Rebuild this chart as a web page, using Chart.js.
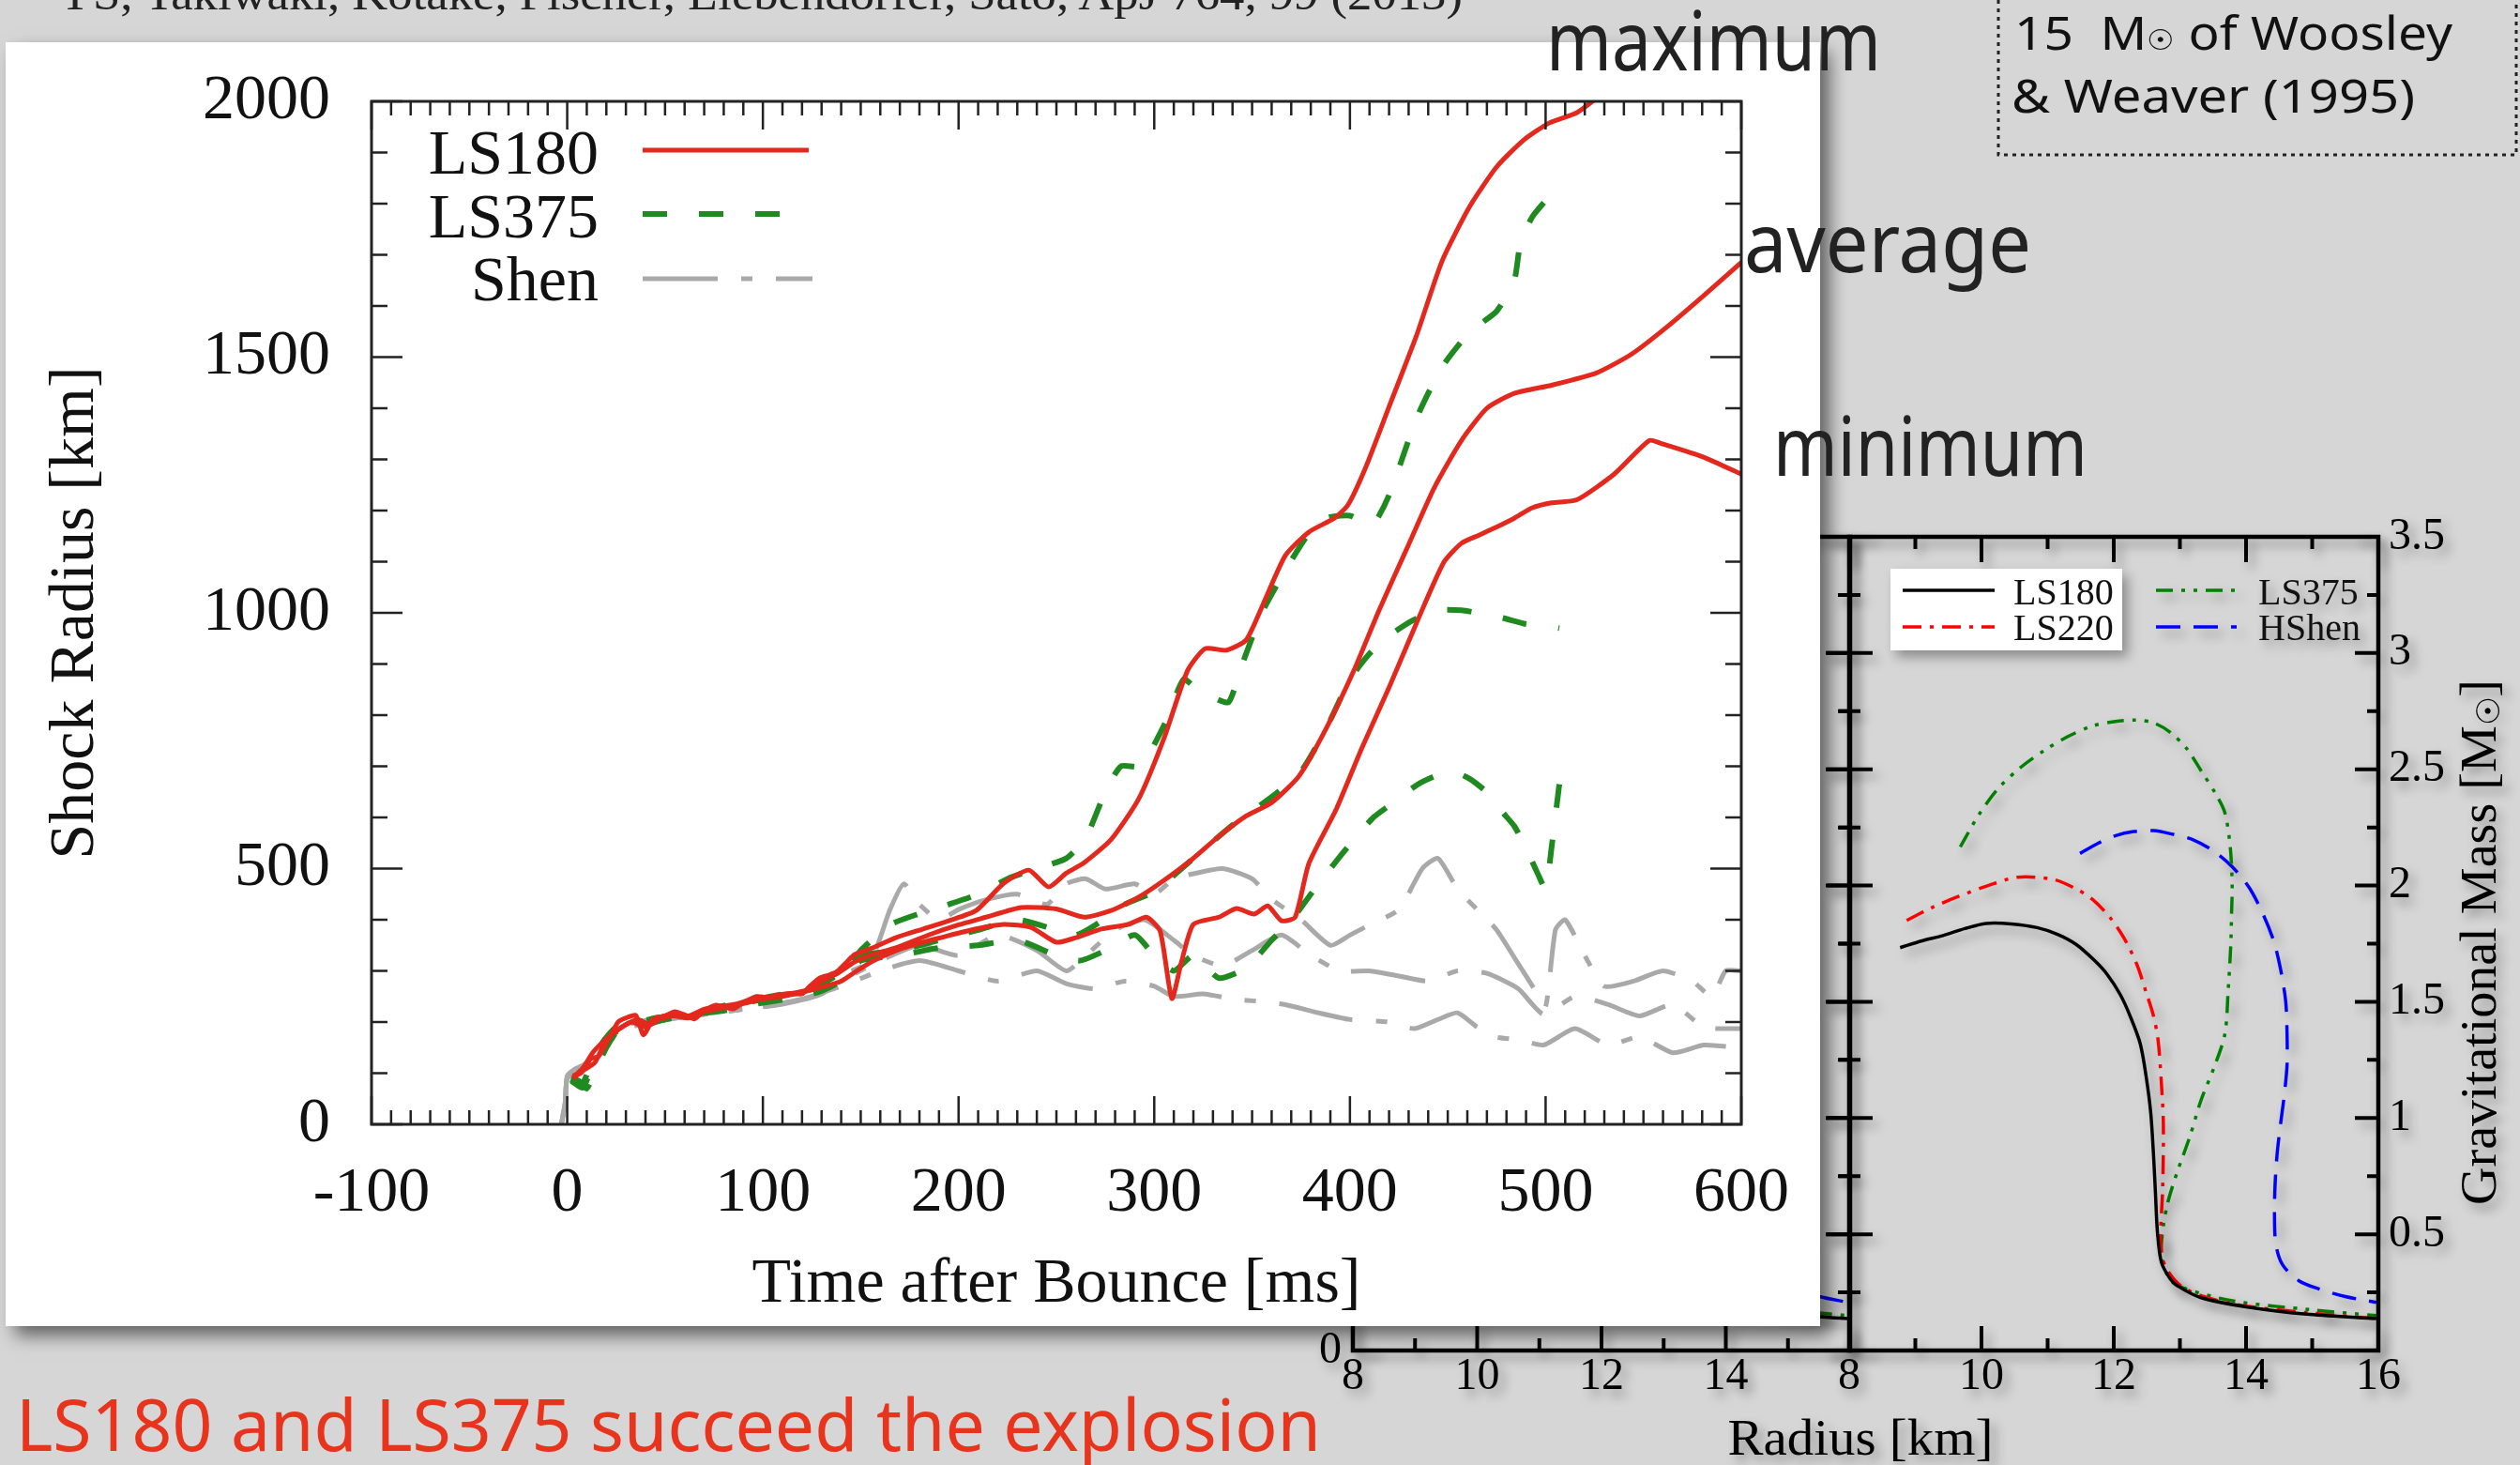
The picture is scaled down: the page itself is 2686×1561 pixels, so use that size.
<!DOCTYPE html>
<html>
<head>
<meta charset="utf-8">
<script src="https://cdn.jsdelivr.net/npm/chart.js@4.4.1/dist/chart.umd.min.js"></script>
<style>
  html, body { margin: 0; padding: 0; }
  body { width: 2686px; height: 1561px; position: relative; overflow: hidden; background: #d6d6d6; }
  .abs { position: absolute; }
  canvas { display: block; }
  #panel { left: 6px; top: 45px; width: 1934px; height: 1368px; background: #fff; box-shadow: 10px 10px 18px rgba(0,0,0,0.55); }
</style>
</head>
<body>
<canvas id="mrLeft" class="abs" style="left:1300px;top:520px" width="700" height="1041"></canvas>
<canvas id="mrRight" class="abs" style="left:1800px;top:520px" width="886" height="1041"></canvas>
<div id="panel" class="abs"><canvas id="shock" width="1934" height="1368"></canvas></div>
<svg class="abs" style="left:0;top:0" width="2686" height="1561">
  <text x="61" y="10" font-family="Liberation Serif" font-size="48" fill="#222" textLength="1498" lengthAdjust="spacingAndGlyphs">YS, Takiwaki, Kotake, Fischer, Liebendörfer, Sato, ApJ 764, 99 (2013)</text>
  <text x="1648" y="75" font-family="Noto Sans" font-size="88" fill="#222" textLength="357" lengthAdjust="spacingAndGlyphs">maximum</text>
  <text x="1859" y="290" font-family="Noto Sans" font-size="88" fill="#222" textLength="306" lengthAdjust="spacingAndGlyphs">average</text>
  <text x="1890" y="507" font-family="Noto Sans" font-size="88" fill="#222" textLength="335" lengthAdjust="spacingAndGlyphs">minimum</text>
  <rect x="2130" y="-10" width="552" height="175" fill="none" stroke="#222" stroke-width="3" stroke-dasharray="4 5"/>
  <text x="2147" y="53" font-family="Noto Sans" font-size="50" fill="#111" style="white-space:pre" textLength="467" lengthAdjust="spacingAndGlyphs">15  M<tspan font-size="30">☉</tspan> of Woosley</text>
  <text x="2144" y="120" font-family="Noto Sans" font-size="50" fill="#111" textLength="430" lengthAdjust="spacingAndGlyphs">&amp; Weaver (1995)</text>
  <text x="17" y="1546" font-family="Noto Sans" font-size="76" fill="#e8341c" textLength="1391" lengthAdjust="spacingAndGlyphs">LS180 and LS375 succeed the explosion</text>
</svg>
<script>
// shock radius [km] vs time after bounce [ms]
const timeTicks = [-100, 0, 100, 200, 300, 400, 500, 600];
const radiusTicks = [0, 500, 1000, 1500, 2000];

const ls180MaxT = [3, 7, 12, 16, 21, 26, 30, 35, 39, 44, 50, 55, 60, 65, 70, 76, 81, 85, 91, 97, 102, 108, 114, 120, 124, 129, 134, 138, 143, 147, 156, 168, 182, 195, 209, 223, 236, 246, 255, 264, 278, 292, 305, 317, 326, 337, 347, 356, 367, 379, 392, 399, 408, 420, 434, 447, 461, 475, 489, 502, 516, 530];
const ls180MaxR = [95, 100, 128, 133, 165, 200, 208, 213, 175, 206, 212, 220, 214, 206, 222, 233, 228, 226, 240, 250, 248, 253, 256, 255, 270, 286, 292, 299, 318, 332, 345, 365, 382, 398, 418, 471, 497, 464, 491, 511, 557, 636, 755, 887, 930, 927, 947, 1020, 1112, 1158, 1185, 1211, 1284, 1403, 1542, 1687, 1793, 1872, 1925, 1958, 1978, 2018];
const ls180AvgT = [3, 8, 13, 18, 24, 30, 36, 42, 48, 55, 62, 70, 78, 86, 95, 104, 113, 122, 130, 138, 147, 156, 168, 186, 200, 214, 232, 250, 264, 278, 292, 305, 319, 333, 347, 360, 374, 388, 402, 415, 429, 443, 457, 470, 484, 503, 526, 544, 562, 581, 600];
const ls180AvgR = [92, 110, 140, 160, 180, 195, 205, 196, 210, 215, 212, 225, 230, 235, 245, 250, 255, 262, 280, 295, 318, 332, 345, 372, 390, 405, 424, 421, 405, 418, 444, 477, 517, 563, 603, 629, 681, 775, 887, 1006, 1125, 1244, 1337, 1400, 1429, 1445, 1469, 1506, 1559, 1621, 1685];
const ls180MinT = [3, 8, 14, 20, 26, 33, 40, 47, 54, 62, 70, 80, 90, 100, 110, 120, 130, 140, 148, 156, 172, 191, 209, 223, 237, 250, 260, 273, 287, 296, 303, 309, 314, 320, 333, 342, 351, 358, 365, 372, 379, 393, 406, 420, 434, 448, 457, 466, 475, 484, 493, 503, 516, 535, 553, 560, 581, 600];
const ls180MinR = [90, 105, 120, 165, 185, 200, 190, 205, 212, 208, 220, 228, 236, 245, 250, 258, 268, 280, 300, 319, 345, 365, 382, 391, 385, 356, 365, 382, 391, 405, 378, 246, 319, 391, 405, 422, 411, 427, 398, 405, 510, 616, 735, 854, 980, 1099, 1136, 1152, 1168, 1185, 1205, 1215, 1221, 1271, 1337, 1330, 1304, 1271];

const ls375MaxT = [2, 6, 10, 15, 20, 26, 32, 40, 50, 60, 72, 85, 100, 115, 130, 142, 150, 165, 180, 195, 210, 225, 240, 255, 265, 275, 283, 293, 305, 315, 322, 330, 338, 345, 355, 365, 378, 388, 400, 411, 420, 434, 447, 461, 475, 484, 487, 493, 500];
const ls375MaxR = [90, 85, 70, 110, 150, 185, 200, 195, 205, 210, 220, 230, 245, 255, 270, 300, 340, 390, 412, 430, 450, 480, 500, 520, 560, 650, 700, 700, 780, 870, 850, 835, 825, 900, 1000, 1070, 1150, 1185, 1190, 1170, 1230, 1380, 1480, 1548, 1590, 1650, 1720, 1773, 1806];
const ls375AvgT = [2, 7, 12, 18, 25, 35, 45, 58, 72, 88, 104, 120, 135, 150, 170, 190, 210, 230, 250, 260, 270, 285, 300, 320, 340, 360, 375, 388, 400, 410, 420, 432, 445, 457, 468, 478, 490, 500, 507];
const ls375AvgR = [88, 75, 115, 160, 190, 198, 208, 212, 225, 238, 250, 262, 285, 330, 340, 360, 380, 400, 380, 370, 390, 430, 455, 520, 585, 640, 690, 775, 870, 920, 955, 985, 1005, 1005, 998, 990, 978, 975, 970];
const ls375MinT = [2, 8, 14, 20, 28, 38, 50, 64, 80, 96, 112, 128, 140, 150, 170, 190, 210, 230, 250, 262, 275, 290, 300, 310, 320, 333, 347, 351, 360, 370, 380, 390, 402, 412, 420, 434, 443, 452, 461, 470, 478, 484, 490, 496, 500, 503, 507];
const ls375MinR = [85, 72, 125, 165, 188, 200, 205, 215, 222, 235, 245, 258, 280, 320, 330, 345, 350, 360, 330, 320, 340, 370, 330, 300, 330, 286, 305, 320, 360, 398, 450, 500, 557, 600, 623, 663, 680, 690, 676, 649, 610, 583, 540, 490, 460, 540, 665];

const shenMaxT = [-3, -1, 0, 4, 10, 20, 30, 50, 70, 90, 110, 130, 140, 155, 165, 172, 180, 190, 200, 215, 230, 245, 255, 265, 275, 290, 300, 310, 320, 335, 350, 360, 375, 390, 400, 410, 425, 437, 445, 455, 465, 475, 485, 495, 500, 505, 510, 520, 530, 545, 560, 575, 585, 592, 600];
const shenMaxR = [0, 40, 95, 108, 120, 170, 195, 205, 215, 225, 235, 255, 290, 320, 420, 470, 430, 400, 420, 440, 450, 430, 470, 480, 460, 470, 450, 480, 490, 500, 480, 440, 400, 350, 370, 390, 420, 500, 520, 460, 420, 380, 320, 260, 230, 380, 400, 330, 270, 280, 300, 280, 250, 300, 300];
const shenAvgT = [-3, -1, 0, 5, 12, 22, 35, 55, 75, 95, 115, 130, 140, 160, 180, 200, 220, 240, 255, 265, 280, 295, 310, 320, 335, 350, 365, 380, 395, 410, 425, 440, 455, 470, 486, 499, 515, 532, 548, 565, 581, 600];
const shenAvgR = [0, 45, 92, 105, 125, 175, 200, 208, 218, 228, 240, 255, 280, 320, 350, 330, 370, 340, 300, 330, 380, 400, 360, 330, 310, 340, 370, 330, 300, 300, 290, 280, 300, 295, 265, 215, 250, 234, 212, 234, 190, 187];
const shenMinT = [-3, -1, 0, 6, 14, 25, 40, 60, 80, 100, 120, 140, 160, 180, 200, 220, 240, 255, 270, 285, 300, 310, 325, 340, 355, 367, 384, 400, 420, 433, 445, 455, 465, 474, 487, 499, 515, 532, 548, 565, 581, 600];
const shenMinR = [0, 42, 90, 102, 128, 178, 198, 210, 220, 230, 245, 270, 300, 320, 300, 280, 300, 275, 265, 280, 270, 250, 255, 245, 240, 234, 218, 205, 200, 187, 205, 218, 190, 171, 165, 155, 187, 155, 171, 140, 155, 149];

// gravitational mass [Msun] vs radius [km]
const mrXTicks = [8, 10, 12, 14, 16];
const mrXTicksLeft = [8, 10, 12, 14];
const mrYTicks = [0, 0.5, 1, 1.5, 2, 2.5, 3, 3.5];
const mrYTicksRight = [0.5, 1, 1.5, 2, 2.5, 3, 3.5];

const mrLs180R = [8.77, 9.1, 9.42, 9.75, 10.07, 10.45, 10.84, 11.15, 11.43, 11.7, 11.9, 12.1, 12.25, 12.4, 12.49, 12.56, 12.6, 12.63, 12.66, 12.72, 12.85, 12.96, 13.31, 14.0, 14.96, 15.97];
const mrLs180M = [1.733, 1.762, 1.785, 1.815, 1.837, 1.835, 1.819, 1.79, 1.747, 1.68, 1.618, 1.53, 1.437, 1.32, 1.178, 1.02, 0.846, 0.68, 0.511, 0.38, 0.31, 0.279, 0.228, 0.188, 0.155, 0.137];
const mrLs220R = [8.87, 9.25, 9.66, 10.1, 10.55, 11.09, 11.4, 11.68, 11.95, 12.16, 12.35, 12.49, 12.6, 12.67, 12.72, 12.75, 12.74, 12.71, 12.79, 13.08, 13.79, 14.96, 15.97];
const mrLs220M = [1.85, 1.905, 1.954, 2.0, 2.036, 2.026, 1.99, 1.94, 1.86, 1.772, 1.66, 1.54, 1.44, 1.335, 1.15, 0.974, 0.7, 0.459, 0.356, 0.265, 0.201, 0.162, 0.137];
const mrLs375R = [9.68, 9.95, 10.25, 10.6, 10.96, 11.3, 11.67, 12.0, 12.32, 12.6, 12.85, 13.1, 13.32, 13.55, 13.68, 13.76, 13.79, 13.78, 13.77, 13.73, 13.68, 13.52, 13.32, 13.15, 12.96, 12.82, 12.75, 12.72, 12.8, 12.96, 13.79, 14.96, 15.97];
const mrLs375M = [2.166, 2.3, 2.417, 2.51, 2.583, 2.64, 2.686, 2.705, 2.712, 2.7, 2.66, 2.59, 2.494, 2.39, 2.313, 2.17, 2.004, 1.87, 1.747, 1.55, 1.361, 1.22, 1.077, 0.92, 0.768, 0.64, 0.536, 0.42, 0.33, 0.279, 0.214, 0.176, 0.15];
const mrShenR = [11.49, 11.75, 12.03, 12.3, 12.6, 12.9, 13.2, 13.5, 13.79, 14.05, 14.26, 14.42, 14.52, 14.6, 14.62, 14.62, 14.58, 14.52, 14.47, 14.44, 14.43, 14.45, 14.55, 14.8, 15.09, 15.5, 15.97];
const mrShenM = [2.138, 2.18, 2.215, 2.232, 2.236, 2.22, 2.197, 2.15, 2.081, 1.99, 1.875, 1.76, 1.643, 1.5, 1.361, 1.23, 1.103, 0.97, 0.846, 0.72, 0.588, 0.459, 0.37, 0.3, 0.266, 0.232, 0.207];

const serif = '"Liberation Serif", "DejaVu Serif", serif';

function pts(xs, ys) {
    return xs.map((x, i) => ({ x: x, y: ys[i] }));
}

function curve(label, xs, ys, color, width, dash) {
    return { label: label, data: pts(xs, ys), borderColor: color, borderWidth: width, borderDash: dash, fill: false, pointRadius: 0 };
}

function eachStep(min, max, minor, major, fn) {
    const n = Math.round((max - min) / minor);
    for (let i = 0; i <= n; i++) {
        const v = min + i * minor;
        const q = v / major;
        fn(v, Math.abs(q - Math.round(q)) < 1e-6);
    }
}

// fixed axis sizes, and no extra room for the end labels
function fixWidth(w) {
    return s => { s.width = w; s.paddingTop = 0; s.paddingBottom = 0; };
}
function fixHeight(h) {
    return s => { s.height = h; s.paddingLeft = 0; s.paddingRight = 0; };
}

// box round the plot with inward ticks (minor + major) on all four sides
const framePlugin = {
    id: 'frame',
    afterDatasetsDraw(chart, args, o) {
        const { ctx, chartArea: a } = chart;
        const xs = chart.scales.x, ys = chart.scales.y;
        ctx.save();
        ctx.strokeStyle = o.color;
        ctx.lineWidth = o.tickWidth;
        ctx.beginPath();
        eachStep(xs.min, xs.max, o.xMinor, o.xMajor, (v, major) => {
            const p = xs.getPixelForValue(v);
            const k = major ? 0 : 1;
            ctx.moveTo(p, a.top); ctx.lineTo(p, a.top + o.top[k]);
            ctx.moveTo(p, a.bottom); ctx.lineTo(p, a.bottom - o.bottom[k]);
        });
        eachStep(ys.min, ys.max, o.yMinor, o.yMajor, (v, major) => {
            const p = ys.getPixelForValue(v);
            const k = major ? 0 : 1;
            const out = o.leftCross ? o.left[k] : 0;
            ctx.moveTo(a.left - out, p); ctx.lineTo(a.left + o.left[k], p);
            ctx.moveTo(a.right, p); ctx.lineTo(a.right - o.right[k], p);
        });
        ctx.stroke();
        ctx.lineWidth = o.width;
        ctx.strokeRect(a.left, a.top, a.width, a.height);
        ctx.restore();
    }
};

// legend rows: line sample drawn with the dataset's own style
const keyPlugin = {
    id: 'key',
    afterDatasetsDraw(chart, args, o) {
        if (!o.entries) return;
        const ctx = chart.ctx;
        ctx.save();
        if (o.box) {
            ctx.fillStyle = '#fff';
            ctx.fillRect(o.box[0], o.box[1], o.box[2], o.box[3]);
        }
        o.entries.forEach(e => {
            const ds = chart.data.datasets.find(d => d.label === e.label);
            ctx.save();
            if (e.plain) ctx.shadowColor = 'rgba(0,0,0,0)';
            ctx.strokeStyle = ds.borderColor;
            ctx.lineWidth = ds.borderWidth;
            ctx.setLineDash(ds.borderDash || []);
            ctx.beginPath();
            ctx.moveTo(e.x0, e.y);
            ctx.lineTo(e.x1, e.y);
            ctx.stroke();
            ctx.setLineDash([]);
            ctx.fillStyle = '#111';
            ctx.font = o.size + 'px ' + serif;
            ctx.textAlign = e.align;
            ctx.textBaseline = 'alphabetic';
            ctx.fillText(e.label, e.tx, e.ty);
            ctx.restore();
        });
        ctx.restore();
    }
};

const shadowPlugin = {
    id: 'softShadow',
    beforeDraw(chart, args, o) {
        const c = chart.ctx;
        c.save();
        c.shadowColor = o.color;
        c.shadowBlur = o.blur;
        c.shadowOffsetX = o.dx;
        c.shadowOffsetY = o.dy;
    },
    afterDraw(chart) {
        chart.ctx.restore();
    }
};

function drawFitted(ctx, parts, cx, by, width, rot) {
    let w = 0;
    parts.forEach(p => { ctx.font = p[1] + 'px ' + serif; w += ctx.measureText(p[0]).width; });
    ctx.save();
    ctx.translate(cx, by);
    ctx.rotate(rot);
    ctx.scale(width / w, 1);
    let x = -w / 2;
    parts.forEach(p => {
        ctx.font = p[1] + 'px ' + serif;
        ctx.fillText(p[0], x, p[2] || 0);
        x += ctx.measureText(p[0]).width;
    });
    ctx.restore();
}

const mrTitlePlugin = {
    id: 'mrTitles',
    afterDatasetsDraw(chart, args, o) {
        if (!o.xText) return;
        const ctx = chart.ctx;
        ctx.save();
        ctx.fillStyle = '#000';
        ctx.textAlign = 'left';
        ctx.textBaseline = 'alphabetic';
        drawFitted(ctx, [[o.xText, o.size]], o.xPos[0], o.xPos[1], o.xWidth, 0);
        drawFitted(ctx, o.yParts, o.yPos[0], o.yPos[1], o.yWidth, -Math.PI / 2);
        ctx.restore();
    }
};

const red = '#e3281d', green = '#1f8a1f', gray = '#a9a9a9';
const greenDash = [26, 34], grayDash = [80, 25, 12, 25];

const shockSets = [
    curve('LS180', ls180MaxT, ls180MaxR, red, 5, []),
    curve('LS180', ls180AvgT, ls180AvgR, red, 5, []),
    curve('LS180', ls180MinT, ls180MinR, red, 5, []),
    curve('LS375', ls375MaxT, ls375MaxR, green, 6, greenDash),
    curve('LS375', ls375AvgT, ls375AvgR, green, 6, greenDash),
    curve('LS375', ls375MinT, ls375MinR, green, 6, greenDash),
    curve('Shen', shenMaxT, shenMaxR, gray, 5, grayDash),
    curve('Shen', shenAvgT, shenAvgR, gray, 5, grayDash),
    curve('Shen', shenMinT, shenMinR, gray, 5, grayDash)
];

const tickFont = { family: serif, size: 68 };

new Chart(document.getElementById('shock'), {
    type: 'line',
    data: { datasets: shockSets },
    options: {
        responsive: false,
        animation: false,
        devicePixelRatio: 1,
        layout: { padding: { top: 63, right: 84, left: 0, bottom: 0 } },
        elements: { point: { radius: 0 }, line: { tension: 0.2 } },
        plugins: {
            legend: { display: false },
            tooltip: { enabled: false },
            frame: { color: '#222', width: 3, tickWidth: 2.5, xMinor: 10, xMajor: 100, yMinor: 100, yMajor: 500,
                top: [30, 15], bottom: [30, 15], left: [33, 17], right: [33, 17], leftCross: false },
            key: { size: 68, entries: [
                { label: 'LS180', align: 'right', tx: 632, ty: 140, y: 115, x0: 679, x1: 856 },
                { label: 'LS375', align: 'right', tx: 632, ty: 208, y: 183, x0: 679, x1: 856 },
                { label: 'Shen', align: 'right', tx: 632, ty: 275, y: 252, x0: 679, x1: 860 }
            ] }
        },
        scales: {
            x: {
                type: 'linear', min: -100, max: 600,
                grid: { display: false, drawTicks: false },
                border: { display: false },
                afterBuildTicks: s => { s.ticks = timeTicks.map(v => ({ value: v })); },
                afterFit: fixHeight(215),
                ticks: { padding: 33, color: '#111', font: tickFont, maxRotation: 0, autoSkip: false, callback: v => String(v) },
                title: { display: true, text: 'Time after Bounce [ms]', color: '#111', font: tickFont, padding: { top: 0, bottom: 3 } }
            },
            y: {
                type: 'linear', min: 0, max: 2000,
                grid: { display: false, drawTicks: false },
                border: { display: false },
                afterBuildTicks: s => { s.ticks = radiusTicks.map(v => ({ value: v })); },
                afterFit: fixWidth(390),
                ticks: { padding: 44, color: '#111', font: tickFont, autoSkip: false, callback: v => String(v) },
                title: { display: true, text: 'Shock Radius [km]', color: '#111', font: tickFont, padding: { top: 34, bottom: 0 } }
            }
        }
    },
    plugins: [framePlugin, keyPlugin]
});

function mrSets() {
    return [
        curve('LS180', mrLs180R, mrLs180M, '#000', 3.5, []),
        curve('LS220', mrLs220R, mrLs220M, '#ff0000', 3.5, [20, 9, 4, 9]),
        curve('LS375', mrLs375R, mrLs375M, '#008000', 3.5, [18, 9, 4, 9, 4, 9]),
        curve('HShen', mrShenR, mrShenM, '#0000ff', 3.5, [26, 14])
    ];
}

const mrFont = { family: serif, size: 48 };
const mrFrame = { color: '#000', width: 4.5, tickWidth: 4, xMinor: 1, xMajor: 2, yMinor: 0.25, yMajor: 0.5,
    top: [27, 13], bottom: [26, 13], left: [25, 12], right: [25, 12] };
const mrShadow = { color: 'rgba(0,0,0,0.35)', blur: 12, dx: 6, dy: 7 };

function mrOptions(side, xTickList, yTickList, extra) {
    return {
        responsive: false,
        animation: false,
        devicePixelRatio: 1,
        layout: { padding: extra.padding },
        elements: { point: { radius: 0 }, line: { tension: 0.3 } },
        plugins: {
            legend: { display: false },
            tooltip: { enabled: false },
            softShadow: mrShadow,
            frame: Object.assign({}, mrFrame, { leftCross: extra.leftCross }),
            key: extra.key || {},
            mrTitles: extra.titles || {}
        },
        scales: {
            x: {
                type: 'linear', min: 8, max: 16,
                grid: { display: false, drawTicks: false },
                border: { display: false },
                afterBuildTicks: s => { s.ticks = xTickList.map(v => ({ value: v })); },
                afterFit: fixHeight(122),
                ticks: { padding: 0, color: '#000', font: mrFont, maxRotation: 0, autoSkip: false, callback: v => String(v) }
            },
            y: {
                type: 'linear', min: 0, max: 3.5, position: side,
                grid: { display: false, drawTicks: false },
                border: { display: false },
                afterBuildTicks: s => { s.ticks = yTickList.map(v => ({ value: v })); },
                afterFit: fixWidth(extra.yWidth),
                ticks: { padding: extra.yPad, color: '#000', font: mrFont, autoSkip: false, callback: v => String(v) }
            }
        }
    };
}

new Chart(document.getElementById('mrLeft'), {
    type: 'line',
    data: { datasets: mrSets() },
    options: mrOptions('left', mrXTicksLeft, mrYTicks, {
        padding: { top: 52, right: 28, left: 0, bottom: 0 }, yWidth: 142, yPad: 12, leftCross: false
    }),
    plugins: [shadowPlugin, framePlugin]
});

new Chart(document.getElementById('mrRight'), {
    type: 'line',
    data: { datasets: mrSets() },
    options: mrOptions('right', mrXTicks, mrYTicksRight, {
        padding: { top: 52, right: 0, left: 171, bottom: 0 }, yWidth: 151, yPad: 11, leftCross: true,
        key: { size: 40, box: [215, 86, 247, 87], entries: [
            { label: 'LS180', align: 'left', tx: 346, ty: 124, y: 109, x0: 228, x1: 326, plain: true },
            { label: 'LS220', align: 'left', tx: 346, ty: 162, y: 148, x0: 228, x1: 326, plain: true },
            { label: 'LS375', align: 'left', tx: 607, ty: 124, y: 109, x0: 498, x1: 586 },
            { label: 'HShen', align: 'left', tx: 607, ty: 162, y: 148, x0: 498, x1: 584 }
        ] },
        titles: { size: 55, xText: 'Radius [km]', xPos: [183, 1030], xWidth: 283,
            yParts: [['Gravitational Mass [M', 55], ['\u2609', 34, 4], [']', 55]], yPos: [860, 484], yWidth: 560 }
    }),
    plugins: [shadowPlugin, framePlugin, keyPlugin, mrTitlePlugin]
});
</script>
</body>
</html>
